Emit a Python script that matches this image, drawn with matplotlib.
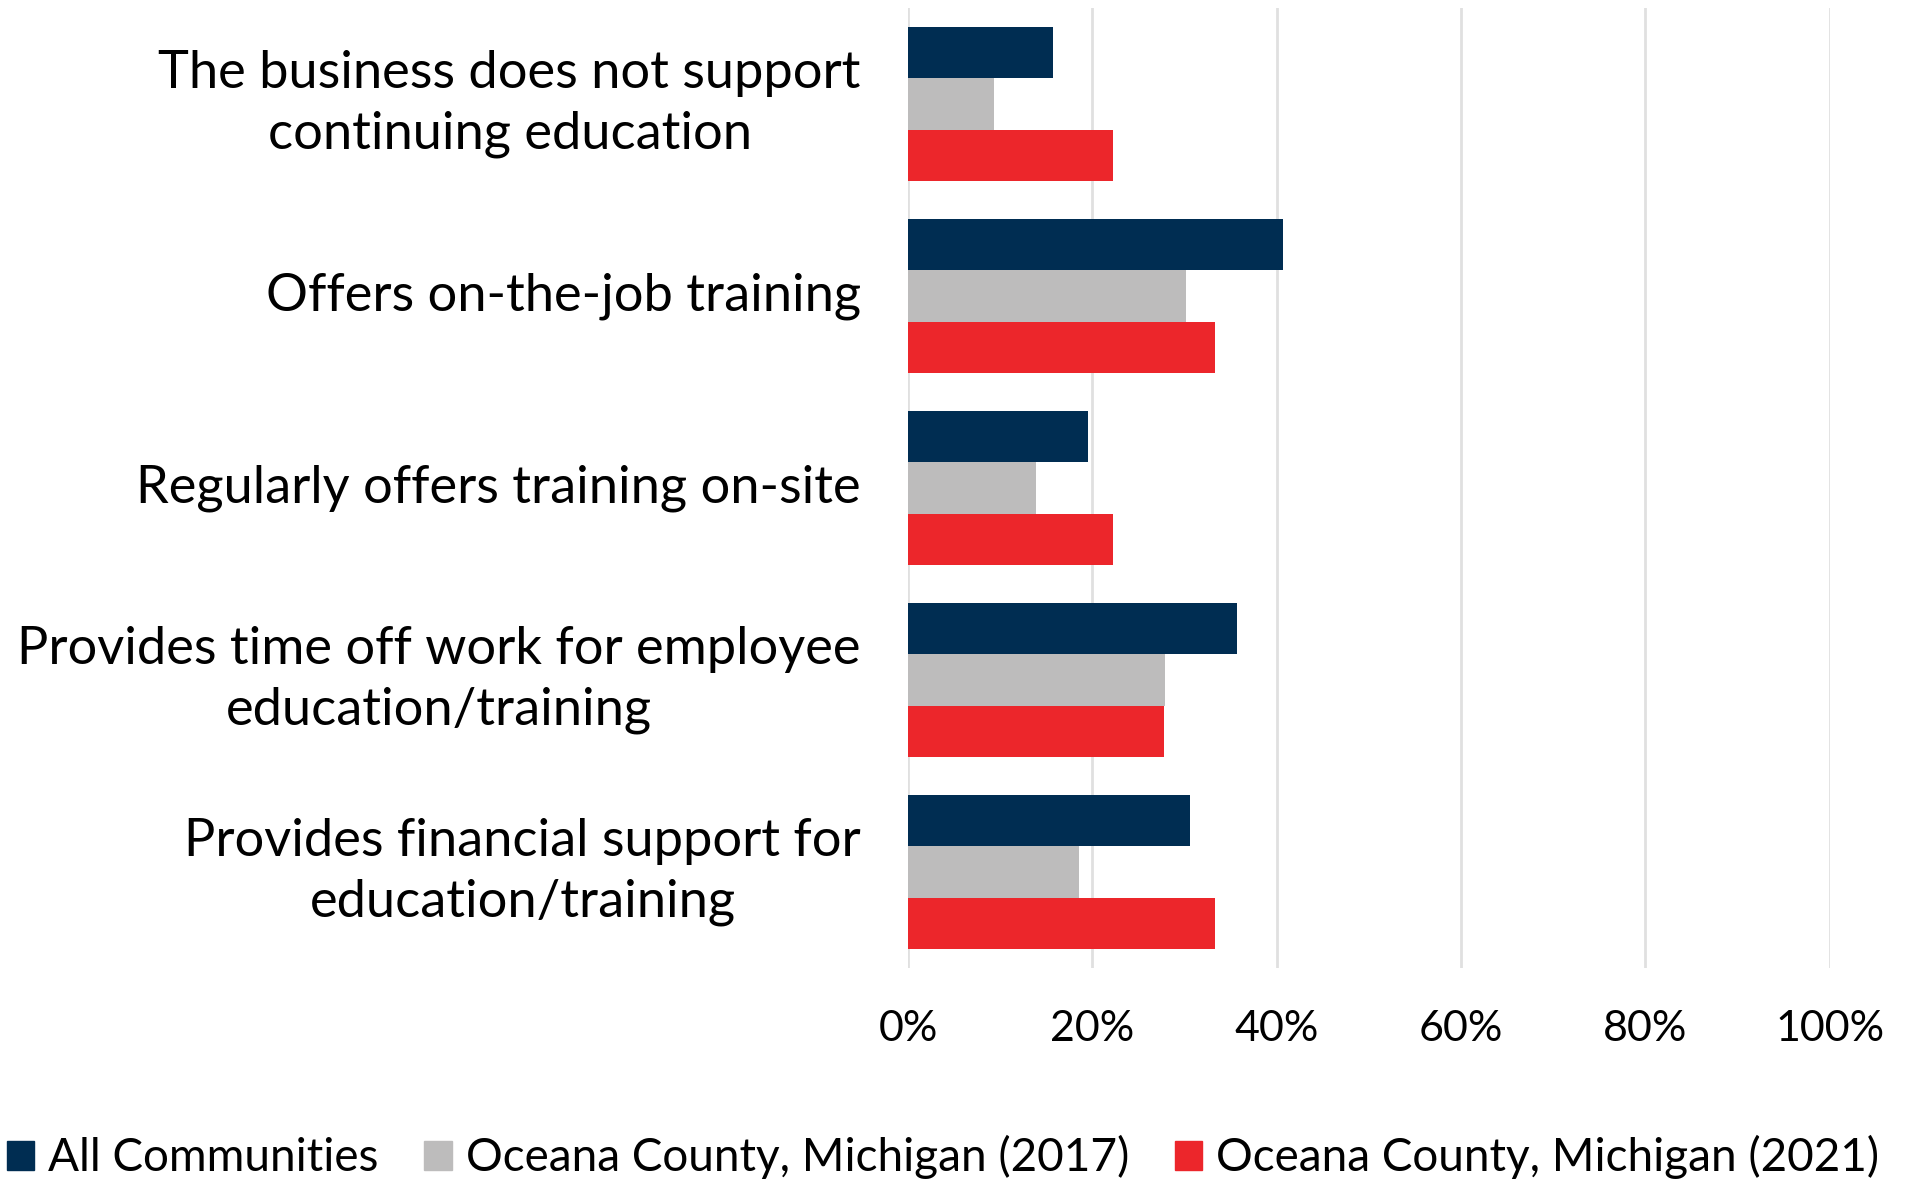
import numpy as np
import matplotlib
matplotlib.use("Agg")
import matplotlib.pyplot as plt
import matplotlib.transforms as mtransforms
from matplotlib.patches import Patch

plt.rcParams['font.family'] = ['Lato', 'DejaVu Sans']

categories = [
    "The business does not support\ncontinuing education",
    "Offers on-the-job training",
    "Regularly offers training on-site",
    "Provides time off work for employee\neducation/training",
    "Provides financial support for\neducation/training",
]
series_names = [
    "All Communities",
    "Oceana County, Michigan (2017)",
    "Oceana County, Michigan (2021)",
]
all_communities = [15.7, 40.7, 19.5, 35.7, 30.6]
oceana_2017 = [9.3, 30.2, 13.9, 27.9, 18.6]
oceana_2021 = [22.2, 33.3, 22.2, 27.8, 33.3]
xticks = [0, 20, 40, 60, 80, 100]

colors = ['#002D52', '#BDBCBC', '#EC262B']

fig = plt.figure(figsize=(19.18, 11.81), dpi=100)
ax = fig.add_axes([0.4734, 0.1804, 0.4805, 0.8128])

y = np.arange(len(categories))
h = 0.8 / 3
for i, (vals, c) in enumerate(zip([all_communities, oceana_2017, oceana_2021], colors)):
    ax.barh(y + (i - 1) * h, vals, height=h, color=c, zorder=3)

ax.set_xlim(0, 100)
ax.set_ylim(len(categories) - 0.5, -0.5)
ax.set_xticks(xticks)
ax.set_xticklabels([f"{t}%" for t in xticks], fontsize=31)
ax.set_yticks(y)
ax.set_yticklabels(categories, fontsize=37.7, multialignment='center', linespacing=1.35)
ax.tick_params(axis='both', length=0)
ax.tick_params(axis='x', pad=30)
ax.tick_params(axis='y', pad=34)
ax.grid(axis='x', color='#E0E0E0', linewidth=2, zorder=0)
for s in ax.spines.values():
    s.set_visible(False)

# nudge the category labels up a little (two-line ones a bit more)
for lbl in ax.get_yticklabels():
    dy = 8.0 if "\n" in lbl.get_text() else 3.0
    lbl.set_transform(lbl.get_transform() +
                      mtransforms.ScaledTranslation(0, dy / 72, fig.dpi_scale_trans))

handles = [Patch(color=c) for c in colors]
fig.legend(handles, series_names, loc='lower center', ncol=3, frameon=False,
           fontsize=33, bbox_to_anchor=(0.4917, -0.018), handlelength=0.6,
           handleheight=0.6, handletextpad=0.3, columnspacing=1.0,
           borderpad=0.0)

fig.savefig("out.png", dpi=100, facecolor='white')
